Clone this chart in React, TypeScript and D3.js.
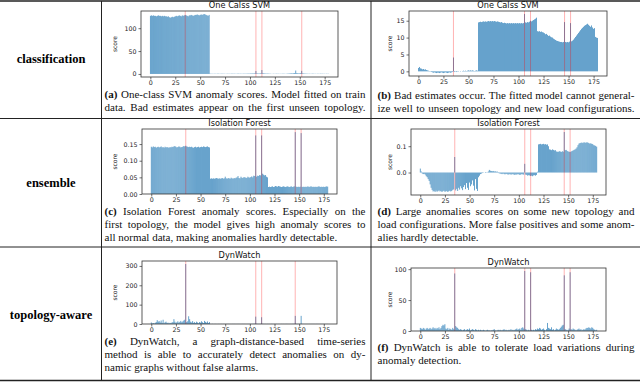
import React, { useEffect, useRef } from 'react'
import * as d3 from 'd3'

const xTicks = [0, 25, 50, 75, 100, 125, 150, 175]
const rowLabels = ['classification', 'ensemble', 'topology-aware']
const titles = ['One Calss SVM', 'One Calss SVM', 'Isolation Forest', 'Isolation Forest', 'DynWatch', 'DynWatch']

// injected anomalies (red lines)
const anomA = [35, 106, 112, 152]
const anomAll = [35, 106, 112, 146, 152]
const anomE = [35, 106, 112, 146]

// (a) one-class SVM, model fitted on train data
const svmTrain = [
  127, 128, 127, 128, 127, 127, 126, 127, 128, 127, 127, 126, 127, 126, 127, 126, 126, 125, 126, 124,
  123, 124, 125, 124, 125, 126, 127, 126, 127, 128, 127, 126, 128, 127, 128, 129, 128, 127, 126, 128,
  128, 129, 128, 127, 128, 129, 129, 130, 129, 128, 129, 130, 129, 130, 131, 130, 129, 128, 127, 129,
  0.6, 0.4, 0.5, 0.3, 0.4, 0.6, 0.2, 0.5, 0.7, 0.4, 0.3, 0.5, 0.6, 0.4, 0.5, 0.3, 0.2, 0.6, 0.4, 0.5,
  0.3, 0.5, 0.7, 0.4, 0.6, 0.5, 0.3, 0.4, 0.8, 0.5, 0.4, 0.6, 0.3, 0.5, 0.7, 0.4, 0.6, 0.5, 0.9, 0.6,
  0.8, 1.1, 0.9, 1.2, 1.0, 1.4, 6.5, 1.3, 1.1, 0.9, 1.2, 1.5, 8.5, 1.6, 1.2, 1.0, 0.8, 0.7, 0.9, 0.6,
  0.5, 0.4, -0.1, 0.3, 0.5, 0.2, 0.4, 0.6, 0.3, 0.5, 0.2, 0.4, 0.3, 0.6, 0.5, 0.4, 0.2, 0.5, 0.7, 0.8,
  1.0, 1.2, 1.4, 1.1, 1.6, 2.0, 7.5, 1.8, 1.5, 1.2, 1.4, 1.9, 6.8, 1.3, 1.0, 0.8, 0.7, 0.6, 0.5, 0.4,
  0.5, 0.3, 0.4, 0.6, 0.5, 0.3, 0.4, 0.2, 0.5, 0.4, 0.3, 0.6, 0.4, 0.5, 0.3, 0.4, 0.2, 0.5, 0.3, 0.4,
]
// (b) one-class SVM, unseen topology / load
const svmLoad = [
  1.0, 1.3, 0.9, 0.8, 0.6, 0.7, 0.5, 0.6, 0.4, 0.3, 0.2, 0.1, -0.1, -0.2, -0.3, -0.4, -0.3, -0.4, -0.5, -0.4,
  -0.4, -0.5, -0.4, -0.3, -0.4, -0.5, -0.4, -0.3, -0.4, -0.5, -0.4, -0.3, -0.4, -0.3, -0.2, 4.1, -0.2, -0.1, -0.2, -0.1,
  -0.1, 0.0, 0.1, 0.0, 0.1, 0.2, 0.1, 0.2, 0.1, 0.2, 0.3, 0.2, 0.3, 0.2, 0.3, 0.2, 0.1, 0.2, 0.3, 0.2,
  14.5, 14.6, 14.7, 14.6, 14.7, 14.8, 14.7, 14.8, 14.7, 14.8, 14.9, 14.8, 14.9, 14.8, 14.9, 14.8, 14.9, 14.8, 14.7, 14.8,
  14.7, 14.6, 14.5, 14.6, 14.4, 14.3, 14.4, 14.3, 14.2, 14.3, 14.2, 14.3, 14.2, 14.3, 14.2, 14.3, 14.2, 14.3, 14.2, 14.3,
  14.2, 14.3, 14.2, 14.3, 14.2, 14.3, 17.0, 14.5, 14.4, 14.6, 14.5, 14.7, 15.0, 14.8, 15.0, 15.2, 15.4, 15.6, 15.9, 11.9,
  11.8, 11.9, 11.7, 11.8, 11.6, 11.5, 11.3, 11.0, 11.1, 10.8, 10.5, 10.6, 10.3, 10.1, 10.0, 9.7, 9.5, 9.3, 9.1, 9.0,
  8.9, 8.8, 8.7, 8.7, 8.6, 8.7, 14.6, 8.7, 8.6, 8.7, 8.6, 8.8, 14.3, 8.9, 9.1, 9.4, 9.8, 10.2, 10.6, 11.0,
  11.4, 11.8, 12.2, 12.6, 12.9, 13.2, 13.5, 13.7, 13.9, 14.1, 13.8, 13.5, 13.2, 13.6, 13.0, 12.6, 12.8, 10.2, 10.0, 9.9,
]
// (c) isolation forest, first topology
const iforestTrain = [
  0.142, 0.140, 0.143, 0.141, 0.142, 0.139, 0.141, 0.142, 0.140, 0.141, 0.143, 0.140, 0.141, 0.139, 0.142, 0.140, 0.141, 0.140, 0.139, 0.141,
  0.140, 0.142, 0.141, 0.143, 0.144, 0.142, 0.140, 0.141, 0.143, 0.142, 0.140, 0.141, 0.142, 0.144, 0.143, 0.145, 0.143, 0.142, 0.141, 0.142,
  0.141, 0.142, 0.140, 0.139, 0.141, 0.142, 0.140, 0.141, 0.142, 0.140, 0.141, 0.142, 0.141, 0.143, 0.142, 0.141, 0.142, 0.143, 0.141, 0.140,
  0.046, 0.047, 0.046, 0.047, 0.046, 0.047, 0.048, 0.047, 0.046, 0.047, 0.046, 0.047, 0.048, 0.046, 0.047, 0.052, 0.047, 0.046, 0.048, 0.047,
  0.046, 0.049, 0.047, 0.046, 0.048, 0.047, 0.049, 0.050, 0.054, 0.048, 0.047, 0.052, 0.049, 0.048, 0.051, 0.050, 0.049, 0.048, 0.052, 0.050,
  0.049, 0.051, 0.053, 0.050, 0.055, 0.054, 0.176, 0.052, 0.055, 0.054, 0.057, 0.056, 0.176, 0.061, 0.058, 0.056, 0.057, 0.052, 0.050, 0.021,
  0.022, 0.021, 0.022, 0.023, 0.021, 0.022, 0.024, 0.023, 0.022, 0.024, 0.023, 0.022, 0.021, 0.022, 0.023, 0.022, 0.021, 0.022, 0.023, 0.022,
  0.021, 0.022, 0.023, 0.021, 0.022, 0.023, 0.186, 0.022, 0.021, 0.022, 0.021, 0.022, 0.183, 0.021, 0.022, 0.021, 0.022, 0.021, 0.022, 0.023,
  0.021, 0.022, 0.023, 0.022, 0.021, 0.022, 0.021, 0.022, 0.021, 0.022, 0.023, 0.022, 0.021, 0.022, 0.021, 0.022, 0.021, 0.022, 0.023, 0.022,
]
// (d) isolation forest, new topology / load
const iforestLoad = [
  0.015, 0.004, -0.004, -0.006, -0.005, -0.008, -0.014, -0.018, -0.025, -0.032, -0.045, -0.058, -0.066, -0.072, -0.070, -0.074, -0.069, -0.073, -0.071, -0.068,
  -0.072, -0.070, -0.074, -0.071, -0.069, -0.073, -0.072, -0.070, -0.074, -0.071, -0.069, -0.072, -0.070, -0.066, -0.064, 0.059, -0.068, -0.062, -0.070, -0.058,
  -0.065, -0.052, -0.060, -0.067, -0.055, -0.048, -0.063, -0.040, -0.058, -0.066, -0.038, -0.052, -0.045, -0.030, -0.050, -0.068, -0.025, -0.062, -0.070, -0.018,
  -0.012, -0.006, -0.004, -0.002, -0.001, 0.000, 0.002, -0.001, 0.001, 0.004, 0.010, 0.007, 0.006, 0.005, 0.006, 0.004, 0.005, 0.003, 0.004, 0.002,
  -0.003, -0.004, -0.005, -0.006, -0.004, -0.006, -0.007, -0.005, -0.006, -0.008, -0.007, -0.006, -0.008, -0.007, -0.006, -0.008, -0.009, -0.007, -0.008, -0.006,
  -0.007, -0.009, -0.008, -0.006, -0.007, -0.008, 0.033, -0.008, -0.009, -0.012, -0.010, -0.011, -0.013, -0.012, -0.014, -0.011, -0.010, -0.012, -0.009, 0.003,
  0.107, 0.108, 0.109, 0.107, 0.108, 0.109, 0.107, 0.108, 0.106, 0.107, 0.100, 0.088, 0.087, 0.085, 0.088, 0.086, 0.084, 0.085, 0.080, 0.079,
  0.079, 0.081, 0.080, 0.078, 0.081, 0.079, 0.154, 0.085, 0.086, 0.082, 0.080, 0.079, 0.078, 0.080, 0.082, 0.084, 0.086, 0.088, 0.091, 0.096,
  0.104, 0.110, 0.112, 0.113, 0.114, 0.112, 0.115, 0.114, 0.113, 0.115, 0.114, 0.112, 0.110, 0.111, 0.109, 0.108, 0.104, 0.103, 0.101, 0.098,
]
// (e) DynWatch, first topology
const dynTrain = [
  8, 3, 5, 2, 6, 10, 20, 12, 15, 8, 18, 6, 22, 4, 9, 12, 5, 7, 3, 6,
  4, 8, 10, 25, 12, 6, 9, 14, 7, 11, 16, 9, 13, 18, 22, 310, 10, 14, 40, 25,
  12, 8, 15, 6, 10, 5, 12, 8, 4, 10, 7, 14, 9, 5, 16, 11, 7, 13, 5, 10,
  0.5, 0.3, 0.8, 0.2, 0.4, 0.6, 0.3, 0.2, 0.5, 0.4, 0.3, 0.6, 0.2, 0.4, 0.5, 0.3, 0.2, 0.4, 0.6, 0.3,
  0.4, 0.2, 0.5, 0.3, 0.6, 0.4, 0.2, 0.3, 0.5, 0.4, 0.3, 0.2, 0.4, 0.6, 0.3, 0.5, 0.2, 0.4, 0.3, 0.5,
  0.4, 0.6, 0.3, 0.5, 0.8, 1.2, 38, 1.0, 0.6, 0.4, 0.5, 0.7, 35, 0.8, 0.5, 0.3, 0.4, 0.2, 0.5, 0.3,
  0.4, 0.2, 0.5, 0.3, 0.2, 0.4, 0.3, 0.5, 0.2, 0.4, 0.3, 0.2, 0.5, 0.3, 0.4, 0.2, 0.3, 0.5, 0.4, 0.3,
  0.2, 0.4, 0.3, 0.5, 0.6, 0.8, 42, 0.7, 0.4, 0.3, 0.5, 0.6, 42, 0.5, 0.3, 0.4, 0.2, 0.3, 0.5, 0.2,
  0.4, 0.3, 0.2, 0.5, 0.3, 0.4, 0.2, 0.3, 0.5, 0.4, 0.2, 0.3, 0.4, 0.2, 0.5, 0.3, 0.4, 0.2, 0.3, 0.4,
]
// (f) DynWatch, load variations
const dynLoad = [
  5, 4, 3, 5, 4, 2, 4, 5, 3, 4, 5, 3, 4, 6, 4, 5, 3, 5, 4, 6,
  3, 5, 8, 10, 9, 11, 4, 3, 5, 2, 4, 3, 2, 5, 3, 93, 8, 6, 5, 3,
  2, 3, 2, 1, 2, 3, 1, 2, 3, 2, 4, 1, 2, 3, 2, 1, 3, 2, 1, 2,
  1, 2, 1, 1, 2, 1, 0.5, 1, 2, 1, 1, 0.5, 1, 1, 2, 3, 1, 0.5, 1, 2,
  1, 2, 1, 1, 2, 3, 1, 2, 1, 1, 2, 1, 3, 1, 2, 1, 2, 3, 4, 2,
  3, 4, 2, 5, 6, 4, 97, 3, 2, 1, 2, 1, 95, 2, 1, 2, 1, 3, 2, 4,
  3, 5, 4, 2, 3, 4, 2, 1, 3, 13, 5, 4, 3, 6, 2, 3, 1, 2, 4, 3,
  2, 3, 5, 7, 9, 10, 90, 3, 2, 1, 2, 4, 95, 3, 2, 4, 3, 2, 1, 2,
  3, 4, 2, 3, 1, 2, 3, 2, 4, 5, 5, 6, 5, 4, 6, 5, 3, 2, 1, 2,
]

const yTicksA = [0, 50, 100]
const yTicksB = [0, 5, 10, 15]
const yTicksC = [0, 0.05, 0.1, 0.15]
const yTicksD = [0, 0.1]
const yTicksE = [0, 100, 200, 300]
const yTicksF = [0, 50, 100]

const captionLabels = ['(a)', '(b)', '(c)', '(d)', '(e)', '(f)']
const captionLines = [
  ['One-class SVM anomaly scores. Model fitted on train', 'data. Bad estimates appear on the first unseen topology.'],
  ['Bad estimates occur. The fitted model cannot general-', 'ize well to unseen topology and new load configurations.'],
  ['Isolation Forest anomaly scores. Especially on the', 'first topology, the model gives high anomaly scores to', 'all normal data, making anomalies hardly detectable.'],
  ['Large anomalies scores on some new topology and', 'load configurations. More false positives and some anom-', 'alies hardly detectable.'],
  ['DynWatch, a graph-distance-based time-series', 'method is able to accurately detect anomalies on dy-', 'namic graphs without false alarms.'],
  ['DynWatch is able to tolerate load variations during', 'anomaly detection.'],
]

const W = 640
const H = 382

export default function App() {
  const ref = useRef(null)

  useEffect(() => {
    const svg = d3.select(ref.current)
    svg.selectAll('*').remove()

    const panels = [
      { values: svmTrain, anom: anomA, yTicks: yTicksA, fmt: d3.format('d'), l: 141, r: 338, t: 11, b: 77 },
      { values: svmLoad, anom: anomAll, yTicks: yTicksB, fmt: d3.format('d'), l: 409, r: 607, t: 11, b: 76 },
      { values: iforestTrain, anom: anomAll, yTicks: yTicksC, fmt: d3.format('.2f'), l: 142, r: 337, t: 129, b: 194 },
      { values: iforestLoad, anom: anomAll, yTicks: yTicksD, fmt: d3.format('.1f'), l: 411, r: 606, t: 129, b: 195 },
      { values: dynTrain, anom: anomE, yTicks: yTicksE, fmt: d3.format('d'), l: 142, r: 337, t: 261, b: 324 },
      { values: dynLoad, anom: anomAll, yTicks: yTicksF, fmt: d3.format('d'), l: 411, r: 606, t: 268, b: 331 },
    ]
    const capPos = [
      { x: 104.5, w: 261, ys: [98, 111] },
      { x: 377.5, w: 257, ys: [98.5, 111.5] },
      { x: 104.5, w: 261, ys: [214.5, 227.8, 241] },
      { x: 377.5, w: 257, ys: [214.5, 227.8, 241] },
      { x: 104.5, w: 261, ys: [344.5, 358, 371] },
      { x: 377.5, w: 257, ys: [351, 364] },
    ]

    // table rules
    const rules = svg.append('g').attr('stroke', '#222')
    rules.append('line').attr('x1', 0).attr('x2', W).attr('y1', 1).attr('y2', 1).attr('stroke-width', 1.6)
    rules.append('line').attr('x1', 0).attr('x2', W).attr('y1', 118.5).attr('y2', 118.5).attr('stroke-width', 1)
    rules.append('line').attr('x1', 0).attr('x2', W).attr('y1', 247).attr('y2', 247).attr('stroke-width', 1)
    rules.append('line').attr('x1', 0).attr('x2', W).attr('y1', 380.5).attr('y2', 380.5).attr('stroke-width', 1.6)
    rules.append('line').attr('x1', 101.5).attr('x2', 101.5).attr('y1', 1).attr('y2', 381).attr('stroke-width', 1)
    rules.append('line').attr('x1', 371).attr('x2', 371).attr('y1', 1).attr('y2', 381).attr('stroke-width', 1)

    const rowY = [63, 187, 319]
    rowLabels.forEach((lab, i) => {
      svg.append('text')
        .attr('x', 51).attr('y', rowY[i])
        .attr('text-anchor', 'middle')
        .style('font-family', '"Liberation Serif", serif')
        .style('font-weight', 'bold')
        .style('font-size', '12.5px')
        .text(lab)
    })

    panels.forEach((p, k) => {
      const n = p.values.length
      const xlo = -0.4, xhi = n - 1 + 0.4
      const xpad = 0.05 * (xhi - xlo)
      const x = d3.scaleLinear().domain([xlo - xpad, xhi + xpad]).range([p.l, p.r])

      const mn = Math.min(0, d3.min(p.values))
      const mx = d3.max(p.values)
      const ylo = mn === 0 ? 0 : mn - 0.05 * (mx - mn)
      const y = d3.scaleLinear().domain([ylo, mx + 0.05 * (mx - mn)]).range([p.b, p.t])

      const g = svg.append('g')

      g.selectAll('rect.bar')
        .data(p.values)
        .enter()
        .append('rect')
        .attr('class', 'bar')
        .attr('x', (d, i) => x(i - 0.4))
        .attr('width', (d, i) => x(i + 0.4) - x(i - 0.4))
        .attr('y', d => y(Math.max(0, d)))
        .attr('height', d => Math.abs(y(d) - y(0)))
        .attr('fill', '#1f77b4')
        .attr('fill-opacity', 0.85)

      g.selectAll('line.anom')
        .data(p.anom)
        .enter()
        .append('line')
        .attr('x1', d => x(d)).attr('x2', d => x(d))
        .attr('y1', p.t).attr('y2', p.b)
        .attr('stroke', 'red')
        .attr('stroke-opacity', 0.3)
        .attr('stroke-width', 1)

      const xAxis = g.append('g')
        .attr('transform', `translate(0,${p.b})`)
        .call(d3.axisBottom(x).tickValues(xTicks).tickSize(2.5).tickPadding(1.5))
      const yAxis = g.append('g')
        .attr('transform', `translate(${p.l},0)`)
        .call(d3.axisLeft(y).tickValues(p.yTicks).tickFormat(p.fmt).tickSize(2.5).tickPadding(2))
      ;[xAxis, yAxis].forEach(a => {
        a.select('.domain').remove()
        a.selectAll('line').attr('stroke', '#333').attr('stroke-width', 0.7)
        a.selectAll('text')
          .attr('fill', '#222')
          .style('font-family', '"DejaVu Sans", sans-serif')
          .style('font-size', '6.3px')
      })

      g.append('rect')
        .attr('x', p.l).attr('y', p.t)
        .attr('width', p.r - p.l).attr('height', p.b - p.t)
        .attr('fill', 'none')
        .attr('stroke', '#333')
        .attr('stroke-width', 0.8)

      g.append('text')
        .attr('x', (p.l + p.r) / 2).attr('y', p.t - 3)
        .attr('text-anchor', 'middle')
        .attr('fill', '#111')
        .style('font-family', '"DejaVu Sans", sans-serif')
        .style('font-size', '8.2px')
        .text(titles[k])

      const yl = k % 2 === 0 ? 117 : 392
      g.append('text')
        .attr('transform', `translate(${yl},${(p.t + p.b) / 2}) rotate(-90)`)
        .attr('text-anchor', 'middle')
        .attr('fill', '#222')
        .style('font-family', '"DejaVu Sans", sans-serif')
        .style('font-size', '6px')
        .text('score')

      // caption, justified like the paper
      const cp = capPos[k]
      const lines = captionLines[k]
      lines.forEach((line, j) => {
        const t = svg.append('text')
          .attr('x', cp.x).attr('y', cp.ys[j])
          .attr('fill', '#111')
          .style('font-family', '"Liberation Serif", serif')
          .style('font-size', '11px')
        let full = line
        if (j === 0) {
          t.append('tspan').style('font-weight', 'bold').text(captionLabels[k])
          t.append('tspan').text(' ' + line)
          full = captionLabels[k] + ' ' + line
        } else {
          t.text(line)
        }
        if (j < lines.length - 1 || (k < 2)) {
          const len = t.node().getComputedTextLength()
          const spaces = full.split(' ').length - 1
          if (spaces > 0) t.attr('word-spacing', (cp.w - len) / spaces)
        }
      })
    })
  }, [])

  return (
    <div>
      <svg ref={ref} width={W} height={H}
        style={{ position: 'absolute', left: 0, top: 0, background: '#fff' }} />
    </div>
  )
}
